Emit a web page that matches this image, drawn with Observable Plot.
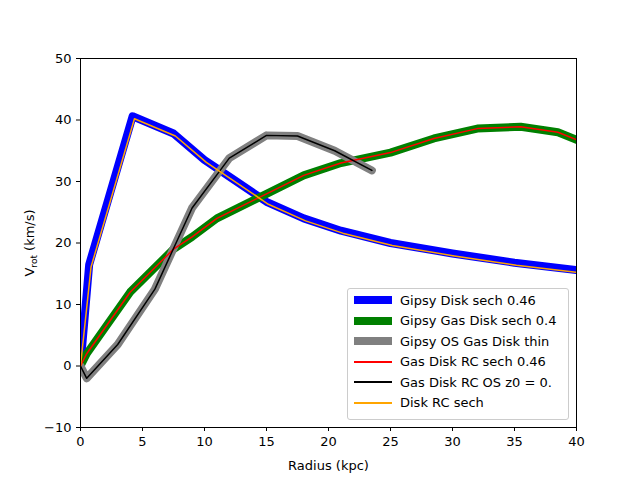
<!DOCTYPE html>
<html><head><meta charset="utf-8">
<script src="https://cdn.jsdelivr.net/npm/d3@7"></script>
<script src="https://cdn.jsdelivr.net/npm/@observablehq/plot@0.6"></script>
<style>body{margin:0;font-family:"DejaVu Sans",sans-serif;} #wrap{position:relative;width:640px;height:480px;}
#leg{position:absolute;left:347px;top:288px;width:220px;height:130px;border:1px solid #ccc;border-radius:3px;background:rgba(255,255,255,0.85);font-size:13px;}
.row{display:flex;align-items:center;height:18.5px;margin-left:6px;margin-top:2px}
.sw{width:38px;margin-right:8px}
</style></head><body><div id="wrap"></div>
<script>
const diskX=[0,0.7,4.2,7.5,10,12,15,18,21,25,30,35,40];
const diskY=[0,16.5,40.6,37.8,33.5,30.8,26.7,24,22,20,18.3,16.8,15.6];
const gasX=[0,0.5,4,7.5,9,11,15,18,21,25,28.5,32,35.5,38.5,40];
const gasY=[0,2,12,19,21,24,28,31,33,34.7,37,38.6,38.9,38,36.8];
const osX=[0,0.5,3,6,9,12,15,17.5,20.5,23.5];
const osY=[0,-2,3.5,12.5,25.7,33.8,37.5,37.4,35,31.8];
const pts=(X,Y)=>X.map((x,i)=>({x,y:Y[i]}));
const disk=pts(diskX,diskY), gas=pts(gasX,gasY), os=pts(osX,osY);
const diskRC=pts(diskX.map(x=>x===0?0:x+0.15),diskY.map((y,i)=>i===0?0:y-0.4));
const plot=Plot.plot({width:640,height:480,marginLeft:80,marginRight:64,marginTop:58,marginBottom:53,
 style:{fontFamily:"DejaVu Sans",fontSize:"13px",overflow:"visible"},
 x:{domain:[0,40],ticks:d3.range(0,41,5),label:"Radius (kpc)",labelAnchor:"center",labelArrow:"none",labelOffset:42,tickSize:4},
 y:{domain:[-10,50],ticks:d3.range(-10,51,10),label:"Vrot (km/s)",labelAnchor:"center",labelArrow:"none",labelOffset:56,tickSize:4,tickFormat:d=>String(d).replace("-","\u2212")},
 marks:[
  Plot.line(disk,{x:"x",y:"y",stroke:"blue",strokeWidth:8,clip:true}),
  Plot.line(gas,{x:"x",y:"y",stroke:"green",strokeWidth:8,clip:true}),
  Plot.line(os,{x:"x",y:"y",stroke:"gray",strokeWidth:8,clip:true}),
  Plot.line(gas,{x:"x",y:"y",stroke:"red",strokeWidth:1.5,clip:true}),
  Plot.line(os,{x:"x",y:"y",stroke:"black",strokeWidth:1.5,clip:true}),
  Plot.line(diskRC,{x:"x",y:"y",stroke:"orange",strokeWidth:1.5,clip:true}),
  Plot.frame({stroke:"black"})
 ]});
document.getElementById("wrap").appendChild(plot);
d3.select(plot).selectAll("text").filter(function(){return this.textContent==="Vrot (km/s)"}).each(function(){
 const t=d3.select(this);t.text("V");t.append("tspan").attr("font-size","9px").attr("dy","3").text("rot");t.append("tspan").attr("dy","-3").text(" (km/s)");});
const items=[["Gipsy Disk sech 0.46","blue",8],["Gipsy Gas Disk sech 0.4","green",8],["Gipsy OS Gas Disk thin","gray",8],["Gas Disk RC sech 0.46","red",2],["Gas Disk RC OS z0 = 0.","black",2],["Disk RC sech","orange",2]];
const leg=document.createElement("div");leg.id="leg";
leg.innerHTML=items.map(([t,c,w])=>`<div class="row"><div class="sw" style="height:${w}px;background:${c}"></div>${t}</div>`).join("");
document.getElementById("wrap").appendChild(leg);
</script></body></html>
